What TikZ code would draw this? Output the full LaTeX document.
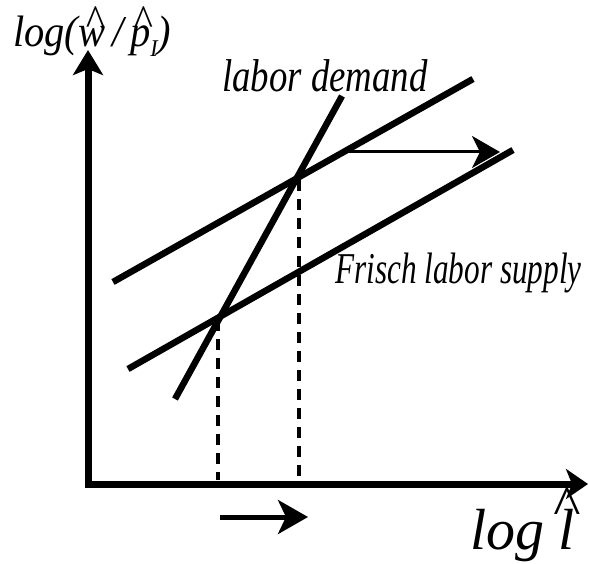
\documentclass[tikz,border=0pt]{standalone}
\usepackage{fontspec}
\setmainfont{Liberation Serif}
\usetikzlibrary{arrows.meta}
\newcommand\hatup[3]{\ooalign{#1\cr\hidewidth\kern#3\raisebox{#2}{\textasciicircum}\hidewidth\cr}}
\tikzset{
  axisline/.style={line width=7pt, line join=miter, {Stealth[length=25pt,width=30pt,inset=6pt]}-{Stealth[length=22pt,width=30pt,inset=6pt]}},
  curveline/.style={line width=6.5pt},
  dropline/.style={line width=4.5pt, dash pattern=on 11pt off 8pt},
  shiftarrow/.style={-{Stealth[length=28pt,width=32pt,inset=8pt]}},
  lbl/.style={inner sep=0pt, anchor=base west, font=\itshape}
}
\begin{document}
\begin{tikzpicture}[x=1pt,y=-1pt]
\useasboundingbox (0,0) rectangle (589,564);
% axes
\coordinate (ytip) at (88,50);
\coordinate (orig) at (88,484);
\coordinate (xtip) at (588,484);
\draw[axisline] (ytip) -- (orig) -- (xtip);
% supply lines
\coordinate (u1) at (113,282);
\coordinate (u2) at (473,79);
\coordinate (s1) at (128,369);
\coordinate (s2) at (513,150);
\draw[curveline] (u1) -- (u2);
\draw[curveline] (s1) -- (s2);
% demand
\coordinate (d1) at (175,399);
\coordinate (d2) at (342,96);
\draw[curveline] (d1) -- (d2);
% dashed drops
\coordinate (e1) at (218,320);
\coordinate (e1b) at (218,480);
\coordinate (e2) at (299,180);
\coordinate (e2b) at (299,480);
\draw[dropline] (e1) -- (e1b);
\draw[dropline] (e2) -- (e2b);
% shift arrows
\coordinate (a1) at (348,152);
\coordinate (a2) at (500,152);
\draw[shiftarrow, line width=3pt] (a1) -- (a2);
\coordinate (b1) at (220,517);
\coordinate (b2) at (308,517);
\draw[line width=5pt, -{Stealth[length=30pt,width=34pt,inset=8pt]}] (b1) -- (b2);
% labels
\node[lbl, font=\itshape\fontsize{44}{44}\selectfont, xscale=0.92] (ylab) at (13,47) {log(\hatup{w}{0.26em}{0.1em}\,/\,\hatup{p}{0.26em}{0.1em}\raisebox{-0.22em}{\fontsize{24}{24}\selectfont I})};
\node[lbl, font=\itshape\fontsize{46}{46}\selectfont, xscale=0.8] (dlab) at (222,92) {labor demand};
\node[lbl, font=\itshape\fontsize{44}{44}\selectfont, xscale=0.71] (slab) at (335,283) {Frisch labor supply};
\node[lbl, font=\itshape\fontsize{58}{58}\selectfont] (xlab) at (470,549) {log \hatup{l}{0.4em}{-0.06em}};
\end{tikzpicture}
\end{document}
